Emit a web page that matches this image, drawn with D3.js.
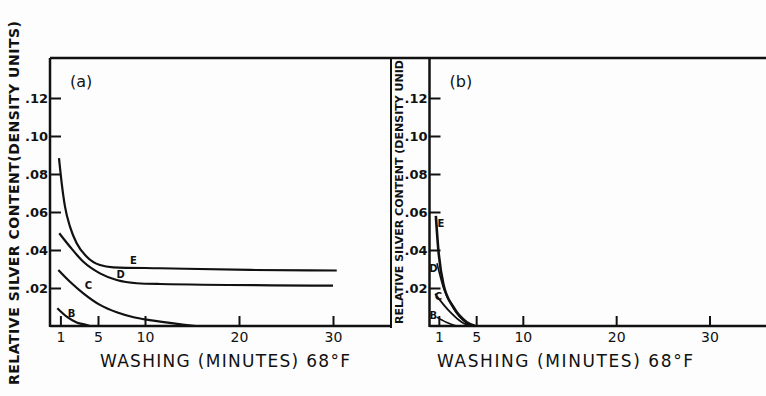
<!DOCTYPE html>
<html>
<head>
<meta charset="utf-8">
<script src="https://cdn.jsdelivr.net/npm/d3@7"></script>
<style>
  body { margin: 0; background: #fdfdfd; }
  svg { display: block; }
  text { font-family: "DejaVu Sans", sans-serif; fill: #111; }
</style>
</head>
<body>
<svg width="766" height="396"></svg>
<script>
// washing time in minutes, relative silver content (density units)
const xTicks = [1, 5, 10, 20, 30];
const yTicks = [0.02, 0.04, 0.06, 0.08, 0.10, 0.12];

// panel (a)
const aE = [[0.85, 0.0883], [1.14, 0.0751], [1.49, 0.0628], [2.02, 0.0523], [2.73, 0.0435], [3.8, 0.0365], [5.21, 0.0321], [6.63, 0.0309], [11.6, 0.0304], [21.2, 0.0295], [30.4, 0.0292]];
const aD = [[0.88, 0.0488], [2.02, 0.0417], [3.44, 0.0338], [5.21, 0.0277], [6.99, 0.0242], [9.12, 0.0225], [11.6, 0.0221], [30, 0.0212]];
const aC = [[0.78, 0.0295], [2.02, 0.0233], [3.44, 0.0172], [5.21, 0.0111], [6.99, 0.0072], [8.8, 0.0046], [10.5, 0.0031], [14, 0.0008], [15.4, 0]];
const aB = [[0.67, 0.0093], [1.67, 0.0049], [2.73, 0.0019], [3.8, 0.0005], [4.15, 0]];

// panel (b)
const bE = [[0.68, 0.058], [0.95, 0.040], [1.49, 0.022], [2.56, 0.010], [4.0, 0.002], [4.9, 0]];
const bD = [[0.8, 0.033], [1.5, 0.020], [2.6, 0.009], [4.0, 0.0015], [4.8, 0]];
const bC = [[0.6, 0.017], [1.14, 0.0135], [2.2, 0.0074], [3.6, 0.0016], [4.7, 0]];
const bB = [[0.78, 0.0047], [1.8, 0.002], [2.9, 0]];

// curve letters: [name, t, v]
const aLabels = [["E", 8.76, 0.0326], ["D", 7.4, 0.0253], ["C", 3.97, 0.0195], ["B", 2.2, 0.005]];
const bLabels = [["E", 1.23, 0.052], ["D", 0.41, 0.0284], ["C", 0.95, 0.0137], ["B", 0.41, 0.0037]];

const svg = d3.select("svg");
const frameTop = 58, base = 326;

const y = d3.scaleLinear().domain([0, 0.14]).range([base, 60]);

const line = (xs) => d3.line()
    .x(d => xs(d[0]))
    .y(d => y(d[1]))
    .curve(d3.curveMonotoneX);

function panel(left, right, xRange, series, labels, tag, titleX, titleW) {
    const x = d3.scaleLinear().domain([0, 30]).range(xRange);
    const g = svg.append("g");

    // axes lines
    g.append("line").attr("x1", left).attr("x2", left).attr("y1", frameTop).attr("y2", base + 1)
        .attr("stroke", "#111").attr("stroke-width", 2.5);
    g.append("line").attr("x1", left).attr("x2", right).attr("y1", base).attr("y2", base)
        .attr("stroke", "#111").attr("stroke-width", 2.5);

    const xAxis = d3.axisBottom(x).tickValues(xTicks).tickSizeInner(-10).tickSizeOuter(0).tickPadding(6);
    const xg = g.append("g").attr("transform", `translate(0,${base})`).call(xAxis);
    xg.select(".domain").remove();
    xg.selectAll("line").attr("stroke", "#111").attr("stroke-width", 2);
    xg.selectAll("text").attr("font-size", 14).attr("font-family", "DejaVu Sans").attr("fill", "#111");

    const yAxis = d3.axisLeft(y).tickValues(yTicks).tickSizeInner(-11).tickSizeOuter(0).tickPadding(2)
        .tickFormat(d => d3.format(".2f")(d).replace("0.", "."));
    const yg = g.append("g").attr("transform", `translate(${left},0)`).call(yAxis);
    yg.select(".domain").remove();
    yg.selectAll("line").attr("stroke", "#111").attr("stroke-width", 2);
    yg.selectAll("text").attr("font-size", 13).attr("font-weight", "bold")
        .attr("font-family", "DejaVu Sans Condensed").attr("fill", "#111");

    series.forEach(s => {
        g.append("path").datum(s.data)
            .attr("d", line(x))
            .attr("fill", "none")
            .attr("stroke", "#111")
            .attr("stroke-width", s.w);
    });

    g.selectAll("text.curve").data(labels).join("text")
        .attr("class", "curve")
        .attr("x", d => x(d[1]))
        .attr("y", d => y(d[2]))
        .attr("font-size", 10)
        .attr("font-weight", "bold")
        .attr("text-anchor", "middle")
        .text(d => d[0]);

    g.append("text").attr("x", left + 20).attr("y", 87)
        .attr("font-size", 16).text(tag);

    g.append("text")
        .attr("x", titleX).attr("y", 367)
        .attr("font-size", 17).attr("text-anchor", "middle")
        .attr("textLength", titleW).attr("lengthAdjust", "spacing")
        .text("WASHING (MINUTES) 68°F");
}

// frame
svg.append("line").attr("x1", 50).attr("x2", 766).attr("y1", frameTop).attr("y2", frameTop)
    .attr("stroke", "#111").attr("stroke-width", 2.5);
svg.append("line").attr("x1", 391).attr("x2", 391).attr("y1", frameTop).attr("y2", base + 2)
    .attr("stroke", "#111").attr("stroke-width", 2);

panel(50, 391, [51, 333], [
    { data: aE, w: 2.2 }, { data: aD, w: 2.2 }, { data: aC, w: 2.2 }, { data: aB, w: 2.2 }
], aLabels, "(a)", 225, 250);

panel(429.5, 766, [429.5, 709.5], [
    { data: bE, w: 2.6 }, { data: bD, w: 1.6 }, { data: bC, w: 1.8 }, { data: bB, w: 1.6 }
], bLabels, "(b)", 565, 256);

// y titles
svg.append("text")
    .attr("transform", "translate(19,203) rotate(-90)")
    .attr("text-anchor", "middle")
    .attr("font-size", 14).attr("font-weight", "bold")
    .attr("textLength", 364).attr("lengthAdjust", "spacing")
    .text("RELATIVE SILVER CONTENT(DENSITY UNITS)");

svg.append("text")
    .attr("transform", "translate(403,192) rotate(-90)")
    .attr("text-anchor", "middle")
    .attr("font-size", 11).attr("font-weight", "bold")
    .attr("font-family", "DejaVu Sans Condensed")
    .attr("textLength", 264).attr("lengthAdjust", "spacingAndGlyphs")
    .text("RELATIVE SILVER CONTENT (DENSITY UNID");
</script>
</body>
</html>
